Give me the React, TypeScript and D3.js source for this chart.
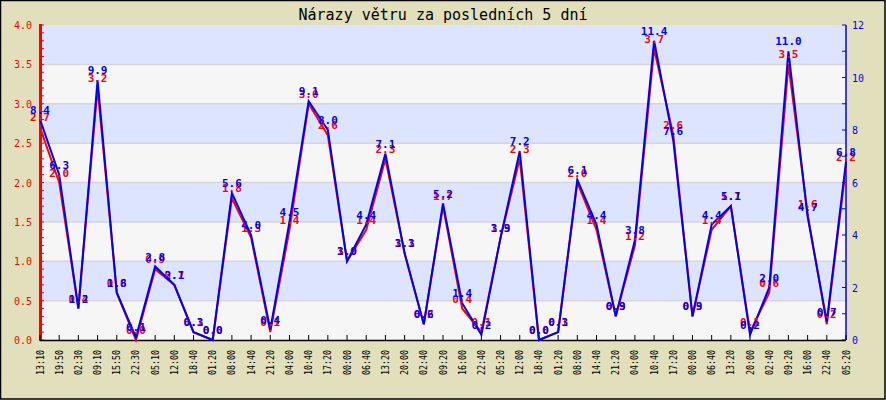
import React, { useEffect } from "react";
import * as d3 from "d3";

const TITLE = "Nárazy větru za posledních 5 dní";
const timeLabels = [
  "13:10", "19:50", "02:30", "09:10", "15:50", "22:30", "05:10", "12:00", "18:40", "01:20",
  "08:00", "14:40", "21:20", "04:00", "10:40", "17:20", "00:00", "06:40", "13:20", "20:00",
  "02:40", "09:20", "16:00", "22:40", "05:20", "12:00", "18:40", "01:20", "08:00", "14:40",
  "21:20", "04:00", "10:40", "17:20", "00:00", "06:40", "13:20", "20:00", "02:40", "09:20",
  "16:00", "22:40", "05:20",
];
const blueValues = [
  8.4, 6.3, 1.2, 9.9, 1.8, 0.1, 2.8, 2.1, 0.3, 0.0,
  5.6, 4.0, 0.4, 4.5, 9.1, 8.0, 3.0, 4.4, 7.1, 3.3,
  0.6, 5.2, 1.4, 0.2, 3.9, 7.2, 0.0, 0.3, 6.1, 4.4,
  0.9, 3.8, 11.4, 7.6, 0.9, 4.4, 5.1, 0.2, 2.0, 11.0,
  4.7, 0.7, 6.8,
];
const redValues = [
  2.7, 2.0, 0.4, 3.2, 0.6, 0.0, 0.9, 0.7, 0.1, 0.0,
  1.8, 1.3, 0.1, 1.4, 3.0, 2.6, 1.0, 1.4, 2.3, 1.1,
  0.2, 1.7, 0.4, 0.1, 1.3, 2.3, 0.0, 0.1, 2.0, 1.4,
  0.3, 1.2, 3.7, 2.6, 0.3, 1.4, 1.7, 0.1, 0.6, 3.5,
  1.6, 0.2, 2.2,
];
const leftTicks = [0, 0.5, 1, 1.5, 2, 2.5, 3, 3.5, 4];
const rightTicks = [0, 2, 4, 6, 8, 10, 12];

const W = 886;
const H = 400;
const L = 40;
const R = 846;
const T = 25;
const B = 340;
const MONO = "'DejaVu Sans Mono', 'Liberation Mono', monospace";

export default function App() {
  useEffect(() => {
    document.body.style.margin = "0";
  }, []);

  const x = d3.scaleLinear().domain([0, timeLabels.length - 1]).range([L, R]);
  const yL = d3.scaleLinear().domain([0, 4]).range([B, T]);
  const yR = d3.scaleLinear().domain([0, 12]).range([B, T]);

  const redLine = d3.line<number>().x((_, i) => x(i)).y((d) => yL(d))(redValues) || "";
  const blueLine = d3.line<number>().x((_, i) => x(i)).y((d) => yR(d))(blueValues) || "";

  const bands = d3.range(0, 4, 0.5);
  const minorLeft = d3.range(0, 41).map((v) => v / 10);
  const minorRight = d3.range(0, 13);

  return (
    <svg width={W} height={H} style={{ position: "absolute", left: 0, top: 0, display: "block" }}>
      <rect x={0.5} y={0.5} width={W - 1.5} height={H - 1.5} fill="#e2e0bc" stroke="#000" strokeWidth={1.5} />
      <text x={W / 2} y={20} textAnchor="middle" fontFamily={MONO} fontSize={15} fill="#000">
        {TITLE}
      </text>
      {bands.map((v, i) => (
        <rect
          key={"b" + i}
          x={L}
          y={yL(v + 0.5)}
          width={R - L}
          height={yL(v) - yL(v + 0.5)}
          fill={i % 2 === 1 ? "#dde4ff" : "#f6f6f6"}
        />
      ))}
      {leftTicks.slice(1, -1).map((v) => (
        <line key={"g" + v} x1={L} x2={R} y1={yL(v)} y2={yL(v)} stroke="#d6d6d6" strokeWidth={1.5} />
      ))}
      {/* left axis */}
      <rect x={39} y={T - 1} width={3} height={B - T + 2} fill="#ff0000" />
      {minorLeft.map((v) => (
        <line key={"ml" + v} x1={41} x2={44} y1={yL(v)} y2={yL(v)} stroke="#ff0000" strokeWidth={1} />
      ))}
      {leftTicks.map((v) => (
        <text
          key={"lt" + v}
          x={32}
          y={yL(v) + 4}
          textAnchor="end"
          fontFamily={MONO}
          fontSize={10}
          fill="#ff0000"
        >
          {v.toFixed(1)}
        </text>
      ))}
      {/* right axis */}
      <line x1={R} x2={R} y1={T} y2={B} stroke="#0000ff" strokeWidth={1.5} />
      {minorRight.map((v) => (
        <line key={"mr" + v} x1={R - 4} x2={R} y1={yR(v)} y2={yR(v)} stroke="#0000ff" strokeWidth={1} />
      ))}
      {rightTicks.map((v) => (
        <text
          key={"rt" + v}
          x={852}
          y={yR(v) + 4}
          textAnchor="start"
          fontFamily={MONO}
          fontSize={10}
          fill="#0000ff"
        >
          {v}
        </text>
      ))}
      {/* x axis */}
      <line x1={L} x2={R} y1={B + 0.5} y2={B + 0.5} stroke="#000" strokeWidth={1.5} />
      {timeLabels.map((lab, i) => (
        <g key={"x" + i}>
          <line x1={x(i)} x2={x(i)} y1={B - 5} y2={B} stroke="#000" strokeWidth={1} />
          <text
            transform={`translate(${x(i) + 3.5},${B + 10}) rotate(-90)`}
            textAnchor="end"
            fontFamily={MONO}
            fontSize={10}
            textLength={25}
            lengthAdjust="spacingAndGlyphs"
            fill="#000"
          >
            {lab}
          </text>
        </g>
      ))}
      {/* lines */}
      <path d={redLine} fill="none" stroke="#ff0000" strokeWidth={2} />
      <path d={blueLine} fill="none" stroke="#0000ff" strokeWidth={2} />
      {/* point labels */}
      {redValues.map((v, i) => (
        <text
          key={"rl" + i}
          x={x(i)}
          y={yL(v) - 6}
          textAnchor="middle"
          fontFamily={MONO}
          fontWeight="bold"
          fontSize={11}
          fill="#ff0000"
        >
          {v.toFixed(1)}
        </text>
      ))}
      {blueValues.map((v, i) => (
        <text
          key={"bl" + i}
          x={x(i)}
          y={yR(v) - 6}
          textAnchor="middle"
          fontFamily={MONO}
          fontWeight="bold"
          fontSize={11}
          fill="#0000ff"
        >
          {v.toFixed(1)}
        </text>
      ))}
    </svg>
  );
}
